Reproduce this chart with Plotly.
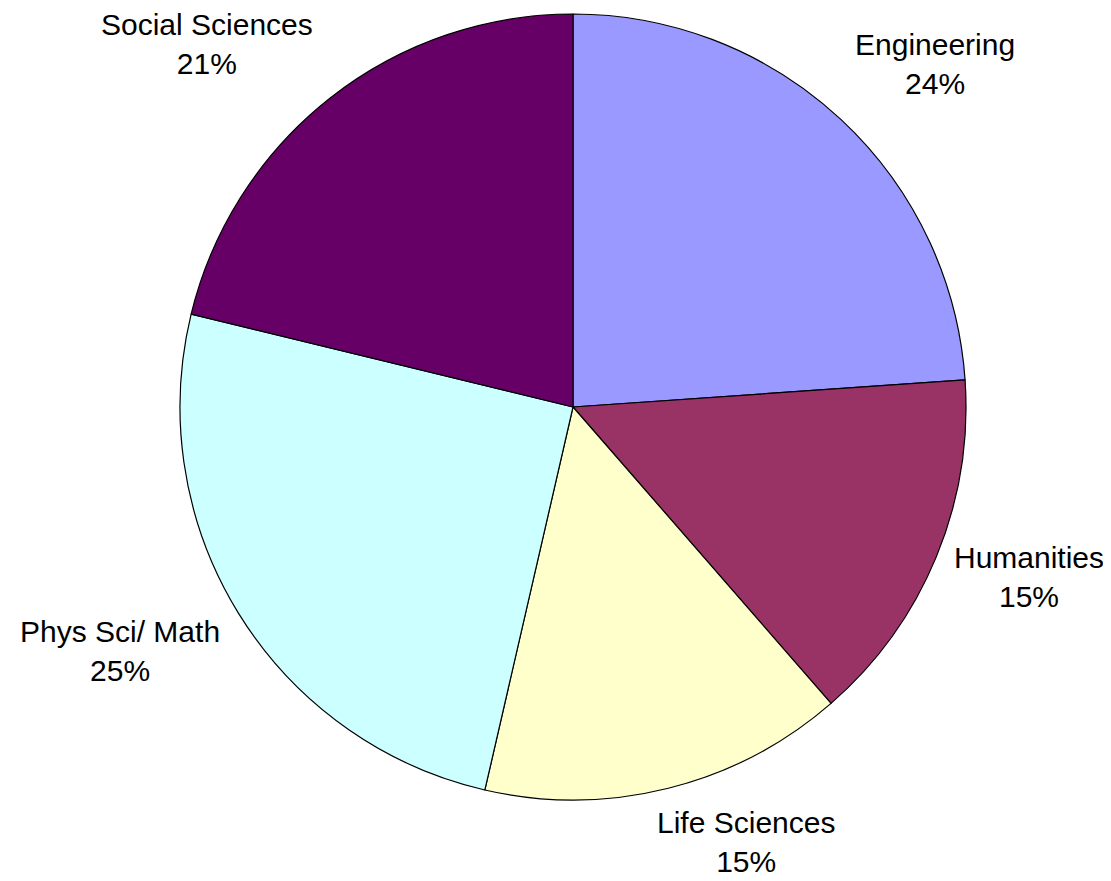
import math
from plotly import graph_objects as go

# shares by field, clockwise from 12 o'clock
fields = ["Engineering", "Humanities", "Life Sciences", "Phys Sci/ Math", "Social Sciences"]
shares = [23.9, 14.7, 15.0, 25.2, 21.2]
colors = ["#9999FF", "#993366", "#FFFFCC", "#CCFFFF", "#660066"]

W, H = 1111, 881
# page body has an 8px margin, so shift everything up/left by 8
cx, cy, R = 565, 399, 393  # pie centre / radius in px

# small per-label nudges (px) to mimic the original label placement
nudge = {"Social Sciences": (0, 3), "Engineering": (-4, 0), "Humanities": (2, 0),
         "Life Sciences": (-19, -8), "Phys Sci/ Math": (4, -13)}

fig = go.Figure()

fig.add_trace(go.Pie(
    labels=fields,
    values=shares,
    sort=False,
    direction="clockwise",
    rotation=0,
    marker=dict(colors=colors, line=dict(color="black", width=1.2)),
    textinfo="none",
    hoverinfo="label+percent",
    showlegend=False,
    domain=dict(x=[(cx - R) / W, (cx + R) / W], y=[1 - (cy + R) / H, 1 - (cy - R) / H]),
))

# labels sit just outside the rim at each slice's mid-angle
total = sum(shares)
acc = 0
for name, v in zip(fields, shares):
    mid = (acc + v / 2) / total * 2 * math.pi
    acc += v
    s, c = math.sin(mid), math.cos(mid)
    px = cx + (R + 24) * s
    py = cy - (R + 24) * c
    if abs(c) < 0.45:
        yanchor = "middle"
        py += 10
        px -= 8
    else:
        yanchor = "bottom" if c > 0 else "top"
    dx, dy = nudge.get(name, (0, 0))
    px += dx
    py += dy
    fig.add_annotation(
        x=px / W, y=1 - py / H, xref="paper", yref="paper",
        text=f"{name}<br>{round(v / total * 100)}%",
        showarrow=False,
        xanchor="left" if s > 0 else "right",
        yanchor=yanchor,
        align="center",
        font=dict(size=30, color="black"),
    )

fig.update_layout(
    width=W,
    height=H,
    margin=dict(l=0, r=0, t=0, b=0),
    paper_bgcolor="white",
    plot_bgcolor="white",
    font=dict(family="Liberation Sans, Arial, sans-serif", color="black"),
)

fig.write_html("out.html")
